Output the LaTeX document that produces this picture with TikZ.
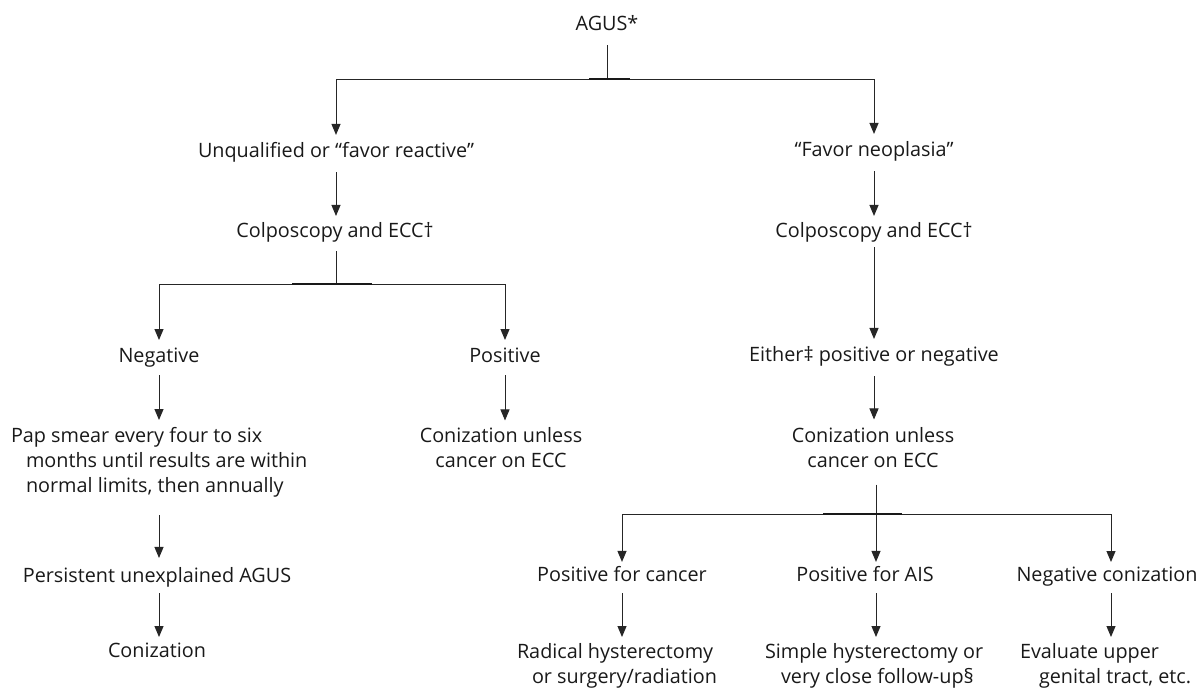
\documentclass[tikz,border=0pt]{standalone}
\usepackage{fontspec}
\setmainfont{Open Sans}
\usetikzlibrary{arrows.meta}
\begin{document}
\begin{tikzpicture}[x=1pt,y=-1pt,
  lbl/.style={inner sep=0pt, outer sep=0pt, font=\fontsize{19.8}{25}\selectfont, text=black!90,
    execute at begin node={\rule{0pt}{15pt}}, execute at end node={\rule[-5pt]{0pt}{5pt}}},
  ctr/.style={lbl, align=center},
  hang/.style={lbl, align=left, anchor=north west},
  ln/.style={line width=1pt, draw=black!85},
  thick bar/.style={line width=2.2pt, draw=black!90},
  arr/.style={ln, -{Triangle[length=11pt,width=9pt]}, shorten >=7pt, shorten <=8pt}
]
\useasboundingbox (0,0) rectangle (1200,689);

% nodes
\node[lbl] (agus) at (607,25) {AGUS*};
\node[lbl] (unq) at (336,152) {Unqualified or “favor reactive”};
\node[lbl] (fav) at (874,151) {“Favor neoplasia”};
\node[lbl] (colL) at (335,232) {Colposcopy and ECC†};
\node[lbl] (colR) at (874,232) {Colposcopy and ECC†};
\node[lbl] (neg) at (159,357) {Negative};
\node[lbl] (pos) at (505,357) {Positive};
\node[lbl] (either) at (874,356) {Either‡ positive or negative};
\node[hang] (pap) at (11,427) {Pap smear every four to six\\\hspace*{15pt}months until results are within\\\hspace*{15pt}normal limits, then annually};
\node[ctr] (conL) at (501,450) {Conization unless\\cancer on ECC};
\node[ctr] (conR) at (873,450) {Conization unless\\cancer on ECC};
\node[lbl] (pers) at (157,577) {Persistent unexplained AGUS};
\node[lbl] (coniz) at (157,652) {Conization};
\node[lbl] (pcan) at (622,576) {Positive for cancer};
\node[lbl] (pais) at (865,576) {Positive for AIS};
\node[lbl] (negc) at (1107,576) {Negative conization};
\node[hang] (rad) at (517,643) {Radical hysterectomy\\\hspace*{15pt}or surgery/radiation};
\node[hang] (simp) at (765,643) {Simple hysterectomy or\\\hspace*{16pt}very close follow-up§};
\node[hang] (eval) at (1020,643) {Evaluate upper\\\hspace*{19pt}genital tract, etc.};

% junction points
\coordinate (b1) at (607,79);
\coordinate (b2) at (336,284);
\coordinate (b3) at (876,514);
\coordinate (nx) at ([xshift=4pt]negc.north);
\coordinate (nxs) at ([xshift=4pt]negc.south);

% top split
\draw[ln, shorten <=10pt] (agus.south -| b1) -- (b1);
\draw[arr, shorten <=0pt] (b1) -| (unq.north);
\draw[arr, shorten <=0pt] (b1) -| (fav.north);
\draw[thick bar] ([xshift=-18pt]b1) -- ([xshift=23pt]b1);

\draw[arr, shorten <=10pt, shorten >=6pt] (unq.south) -- (colL.north -| unq);
\draw[arr, shorten <=10pt, shorten >=6pt] (fav.south) -- (colR.north -| fav);

% left branch
\draw[ln, shorten <=9pt] (colL.south -| b2) -- (b2);
\draw[arr, shorten <=0pt] (b2) -| (neg.north);
\draw[arr, shorten <=0pt] (b2) -| (pos.north);
\draw[thick bar] ([xshift=-44pt]b2) -- ([xshift=36pt]b2);

\draw[arr] (neg.south) -- (pap.north -| neg);
\draw[arr] (pos.south) -- (conL.north -| pos);
\draw[arr, shorten <=18pt, shorten >=9pt] (pap.south -| neg) -- (pers.north -| neg);
\draw[arr, shorten <=6pt, shorten >=5pt] (pers.south -| neg) -- (coniz.north -| neg);

% right branch
\draw[arr, shorten <=5pt] (colR.south) -- (either.north -| colR);
\draw[arr, shorten <=10pt, shorten >=8pt] (either.south) -- (conR.north -| either);
\draw[ln, shorten <=12pt] (conR.south -| b3) -- (b3);
\draw[arr, shorten <=0pt, shorten >=4pt] (b3) -| (pcan.north);
\draw[arr, shorten <=0pt, shorten >=4pt] (b3) -- (pais.north -| b3);
\draw[arr, shorten <=0pt, shorten >=4pt] (b3) -| (nx);
\draw[thick bar] ([xshift=-53pt]b3) -- ([xshift=26pt]b3);

\draw[arr, shorten <=7pt, shorten >=6pt] (pcan.south) -- (rad.north -| pcan);
\draw[arr, shorten <=7pt, shorten >=6pt] (pais.south -| b3) -- (simp.north -| b3);
\draw[arr, shorten <=7pt, shorten >=6pt] (nxs) -- (eval.north -| nxs);
\end{tikzpicture}
\end{document}
